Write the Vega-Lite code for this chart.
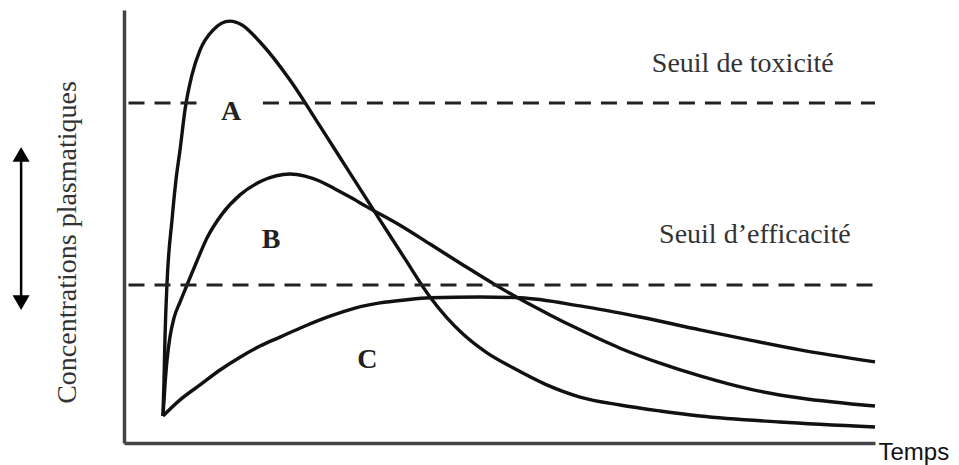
{
  "$schema": "https://vega.github.io/schema/vega-lite/v6.json",
  "width": 751,
  "height": 433,
  "autosize": "none",
  "padding": {"left": 124, "top": 10, "right": 84, "bottom": 22},
  "background": "white",
  "config": {"view": {"stroke": null}},
  "datasets": {
    "courbes": [
      {"courbe": "A", "t": 5.19, "c": 4.92},
      {"courbe": "A", "t": 5.33, "c": 13.35},
      {"courbe": "A", "t": 5.46, "c": 23.4},
      {"courbe": "A", "t": 5.73, "c": 36.1},
      {"courbe": "A", "t": 6.39, "c": 50.8},
      {"courbe": "A", "t": 6.92, "c": 60.2},
      {"courbe": "A", "t": 7.46, "c": 67.2},
      {"courbe": "A", "t": 8.12, "c": 76.6},
      {"courbe": "A", "t": 9.05, "c": 84.8},
      {"courbe": "A", "t": 10.12, "c": 90.6},
      {"courbe": "A", "t": 11.85, "c": 95.3},
      {"courbe": "A", "t": 14.11, "c": 97.4},
      {"courbe": "A", "t": 15.71, "c": 96.5},
      {"courbe": "A", "t": 18.11, "c": 92.5},
      {"courbe": "A", "t": 22.10, "c": 83.6},
      {"courbe": "A", "t": 26.10, "c": 72.8},
      {"courbe": "A", "t": 30.09, "c": 61.8},
      {"courbe": "A", "t": 34.09, "c": 50.8},
      {"courbe": "A", "t": 37.42, "c": 41.7},
      {"courbe": "A", "t": 40.75, "c": 32.8},
      {"courbe": "A", "t": 43.01, "c": 27.9},
      {"courbe": "A", "t": 45.14, "c": 24.1},
      {"courbe": "A", "t": 48.34, "c": 19.7},
      {"courbe": "A", "t": 51.80, "c": 16.2},
      {"courbe": "A", "t": 56.06, "c": 12.4},
      {"courbe": "A", "t": 60.72, "c": 9.37},
      {"courbe": "A", "t": 66.05, "c": 7.49},
      {"courbe": "A", "t": 71.37, "c": 6.09},
      {"courbe": "A", "t": 76.70, "c": 4.92},
      {"courbe": "A", "t": 87.35, "c": 3.51},
      {"courbe": "A", "t": 100, "c": 2.34},
      {"courbe": "B", "t": 5.19, "c": 4.92},
      {"courbe": "B", "t": 5.46, "c": 12.2},
      {"courbe": "B", "t": 5.73, "c": 18.0},
      {"courbe": "B", "t": 6.12, "c": 23.4},
      {"courbe": "B", "t": 6.66, "c": 27.9},
      {"courbe": "B", "t": 7.46, "c": 31.6},
      {"courbe": "B", "t": 8.39, "c": 35.6},
      {"courbe": "B", "t": 9.59, "c": 40.7},
      {"courbe": "B", "t": 11.05, "c": 46.6},
      {"courbe": "B", "t": 13.05, "c": 52.2},
      {"courbe": "B", "t": 15.45, "c": 56.7},
      {"courbe": "B", "t": 18.38, "c": 60.0},
      {"courbe": "B", "t": 22.10, "c": 61.6},
      {"courbe": "B", "t": 24.10, "c": 61.1},
      {"courbe": "B", "t": 26.10, "c": 59.9},
      {"courbe": "B", "t": 28.10, "c": 58.1},
      {"courbe": "B", "t": 30.09, "c": 56.2},
      {"courbe": "B", "t": 32.36, "c": 53.9},
      {"courbe": "B", "t": 36.75, "c": 49.6},
      {"courbe": "B", "t": 40.75, "c": 45.2},
      {"courbe": "B", "t": 45.41, "c": 40.0},
      {"courbe": "B", "t": 49.67, "c": 35.4},
      {"courbe": "B", "t": 52.73, "c": 32.3},
      {"courbe": "B", "t": 56.72, "c": 28.6},
      {"courbe": "B", "t": 60.72, "c": 25.1},
      {"courbe": "B", "t": 66.05, "c": 20.8},
      {"courbe": "B", "t": 71.37, "c": 17.3},
      {"courbe": "B", "t": 76.70, "c": 14.3},
      {"courbe": "B", "t": 83.35, "c": 11.2},
      {"courbe": "B", "t": 90.01, "c": 9.13},
      {"courbe": "B", "t": 100, "c": 7.26},
      {"courbe": "C", "t": 5.19, "c": 4.92},
      {"courbe": "C", "t": 7.46, "c": 8.7},
      {"courbe": "C", "t": 10.12, "c": 12.2},
      {"courbe": "C", "t": 12.78, "c": 15.7},
      {"courbe": "C", "t": 15.45, "c": 18.7},
      {"courbe": "C", "t": 18.11, "c": 21.3},
      {"courbe": "C", "t": 20.77, "c": 23.4},
      {"courbe": "C", "t": 24.10, "c": 26.0},
      {"courbe": "C", "t": 27.43, "c": 28.3},
      {"courbe": "C", "t": 30.76, "c": 30.2},
      {"courbe": "C", "t": 34.09, "c": 31.4},
      {"courbe": "C", "t": 37.42, "c": 32.1},
      {"courbe": "C", "t": 40.75, "c": 32.6},
      {"courbe": "C", "t": 47.40, "c": 32.8},
      {"courbe": "C", "t": 52.73, "c": 32.6},
      {"courbe": "C", "t": 60.72, "c": 30.7},
      {"courbe": "C", "t": 68.71, "c": 28.1},
      {"courbe": "C", "t": 76.70, "c": 25.1},
      {"courbe": "C", "t": 83.35, "c": 22.7},
      {"courbe": "C", "t": 90.01, "c": 20.4},
      {"courbe": "C", "t": 100, "c": 17.6}
    ],
    "seuils": [
      {"seuil": "toxicité", "t0": 0.6, "t1": 10.1, "c": 78.2},
      {"seuil": "toxicité", "t0": 18.5, "t1": 100, "c": 78.2},
      {"seuil": "efficacité", "t0": 0.6, "t1": 100, "c": 35.6}
    ],
    "etiquettes": [
      {"texte": "Seuil de toxicité", "t": 82.4, "c": 85.5},
      {"texte": "Seuil d’efficacité", "t": 84.0, "c": 45.4}
    ],
    "lettres": [
      {"lettre": "A", "t": 14.25, "c": 76.1},
      {"lettre": "B", "t": 19.6, "c": 46.1},
      {"lettre": "C", "t": 32.4, "c": 18.0}
    ],
    "fleche": [
      {"t": -13.7, "c0": 31.5, "c1": 66.2}
    ],
    "pointes": [
      {"sens": "haut", "t": -13.7, "c": 66.2},
      {"sens": "bas", "t": -13.7, "c": 31.5}
    ]
  },
  "layer": [
    {
      "data": {"name": "courbes"},
      "mark": {"type": "line", "interpolate": "monotone", "strokeWidth": 3.4, "color": "#111111"},
      "encoding": {
        "x": {
          "field": "t", "type": "quantitative",
          "scale": {"domain": [0, 100], "nice": false, "zero": false},
          "axis": {
            "title": "Temps", "domain": true, "domainColor": "#444444", "domainWidth": 3.5,
            "ticks": false, "labels": false, "grid": false,
            "titleFont": "Liberation Sans", "titleFontSize": 24, "titleFontWeight": "normal",
            "titleColor": "#111111", "titleX": 754, "titleY": 16,
            "titleAlign": "left", "titleBaseline": "alphabetic"
          }
        },
        "y": {
          "field": "c", "type": "quantitative",
          "scale": {"domain": [-1.4, 100], "nice": false, "zero": false},
          "axis": {
            "title": "Concentrations plasmatiques", "domain": true, "domainColor": "#444444", "domainWidth": 3.5,
            "ticks": false, "labels": false, "grid": false,
            "titleFont": "Liberation Serif", "titleFontSize": 28, "titleFontWeight": "normal",
            "titleColor": "#333333", "titleX": -57, "titleY": 232, "titleAngle": -90,
            "titleAlign": "center", "titleBaseline": "middle"
          }
        },
        "detail": {"field": "courbe", "type": "nominal"}
      }
    },
    {
      "data": {"name": "seuils"},
      "mark": {"type": "rule", "strokeDash": [16, 10], "strokeWidth": 3, "color": "#222222"},
      "encoding": {
        "x": {"field": "t0", "type": "quantitative"},
        "x2": {"field": "t1"},
        "y": {"field": "c", "type": "quantitative"}
      }
    },
    {
      "data": {"name": "etiquettes"},
      "mark": {"type": "text", "font": "Liberation Serif", "fontSize": 28, "color": "#333333", "align": "center", "baseline": "alphabetic"},
      "encoding": {
        "x": {"field": "t", "type": "quantitative"},
        "y": {"field": "c", "type": "quantitative"},
        "text": {"field": "texte"}
      }
    },
    {
      "data": {"name": "lettres"},
      "mark": {"type": "text", "font": "Liberation Serif", "fontSize": 28, "fontWeight": "bold", "color": "#222222", "align": "center", "baseline": "middle"},
      "encoding": {
        "x": {"field": "t", "type": "quantitative"},
        "y": {"field": "c", "type": "quantitative"},
        "text": {"field": "lettre"}
      }
    },
    {
      "data": {"name": "fleche"},
      "mark": {"type": "rule", "strokeWidth": 2.5, "color": "#000000"},
      "encoding": {
        "x": {"field": "t", "type": "quantitative"},
        "y": {"field": "c0", "type": "quantitative"},
        "y2": {"field": "c1"}
      }
    },
    {
      "data": {"name": "pointes"},
      "mark": {"type": "point", "filled": true, "size": 290, "color": "#000000", "opacity": 1},
      "encoding": {
        "x": {"field": "t", "type": "quantitative"},
        "y": {"field": "c", "type": "quantitative"},
        "shape": {"field": "sens", "type": "nominal", "scale": {"domain": ["haut", "bas"], "range": ["triangle-up", "triangle-down"]}, "legend": null}
      }
    }
  ]
}
